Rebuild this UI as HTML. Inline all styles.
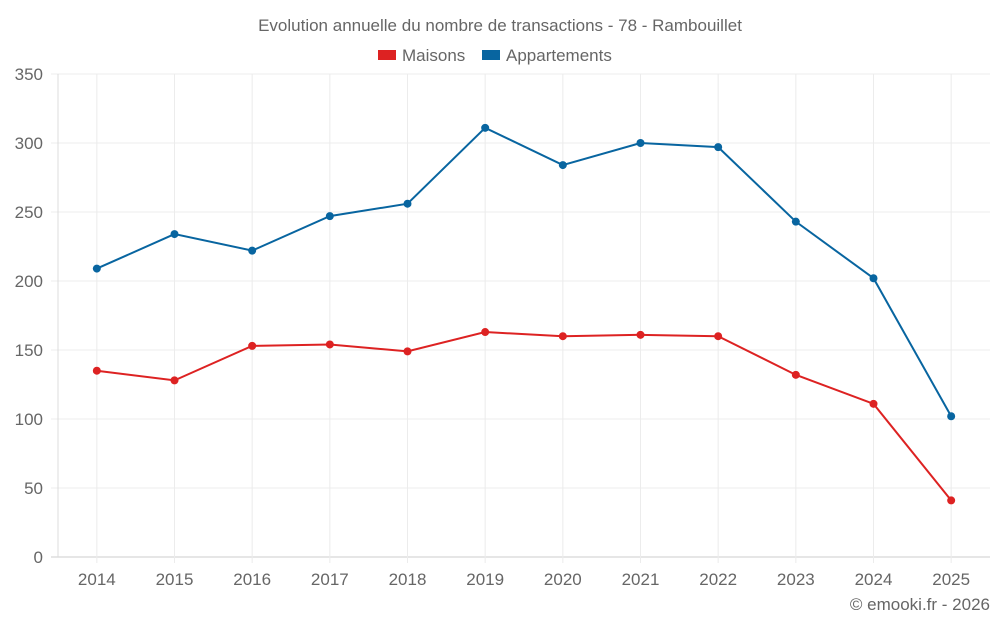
<!DOCTYPE html>
<html><head><meta charset="utf-8"><style>
body{margin:0;background:#fff;font-family:"Liberation Sans",sans-serif;}
svg text{font-family:"Liberation Sans",sans-serif;fill:#666;}
</style></head><body>
<svg id="chart" width="1000" height="625" viewBox="0 0 1000 625" xmlns="http://www.w3.org/2000/svg">
<text x="500" y="31" text-anchor="middle" font-size="17">Evolution annuelle du nombre de transactions - 78 - Rambouillet</text>
<g>
<g><rect x="378" y="50" width="18" height="10" fill="#dd2222"/><text x="402" y="61" font-size="17">Maisons</text></g>
<g><rect x="482" y="50" width="18" height="10" fill="#0865a0"/><text x="506" y="61" font-size="17">Appartements</text></g>
</g>
<g id="grid"></g>
<g id="axes"></g>
<g id="series"></g>
<text x="990" y="610" text-anchor="end" font-size="17">© emooki.fr - 2026</text>
</svg>
<script>
const years=["2014","2015","2016","2017","2018","2019","2020","2021","2022","2023","2024","2025"];
const maisons=[135,128,153,154,149,163,160,161,160,132,111,41];
const appartements=[209,234,222,247,256,311,284,300,297,243,202,102];
const yTicks=[0,50,100,150,200,250,300,350];
const NS="http://www.w3.org/2000/svg";
const L=58,R=990,T=74,B=557,yMax=350;
const step=(R-L)/years.length;
const x=i=>L+step*(i+0.5);
const y=v=>B-(v/yMax)*(B-T);
function mk(tag,attrs,parent){const e=document.createElementNS(NS,tag);for(const k in attrs)e.setAttribute(k,attrs[k]);parent.appendChild(e);return e;}
const grid=document.getElementById('grid'),axes=document.getElementById('axes'),series=document.getElementById('series');
yTicks.forEach(t=>{
  const ln=mk('line',{x1:51,x2:R,y1:y(t),y2:y(t),stroke:t===0?'#ccc':'#ececec','stroke-width':1},grid);
  
  
  const tx=mk('text',{x:43,y:y(t)+6,'text-anchor':'end','font-size':17},axes);
  tx.textContent=t;
  
  
});
const axl=mk('line',{x1:L,x2:L,y1:T,y2:B,stroke:'#ddd','stroke-width':1},grid);


years.forEach((yr,i)=>{
  const ln=mk('line',{x1:x(i),x2:x(i),y1:T,y2:B+6,stroke:'#ececec','stroke-width':1},grid);
  
  
  const tx=mk('text',{x:x(i),y:585,'text-anchor':'middle','font-size':17},axes);
  tx.textContent=yr;
  
  
});
function draw(vals,color,name){
  const p=mk('polyline',{points:vals.map((v,i)=>x(i)+','+y(v)).join(' '),fill:'none',stroke:color,'stroke-width':2},series);
  
  
  vals.forEach((v,i)=>{
    const c=mk('circle',{cx:x(i),cy:y(v),r:4,fill:color},series);
    
    
  });
}
draw(maisons,'#dd2222','maisons');
draw(appartements,'#0865a0','appartements');
</script>
</body></html>
